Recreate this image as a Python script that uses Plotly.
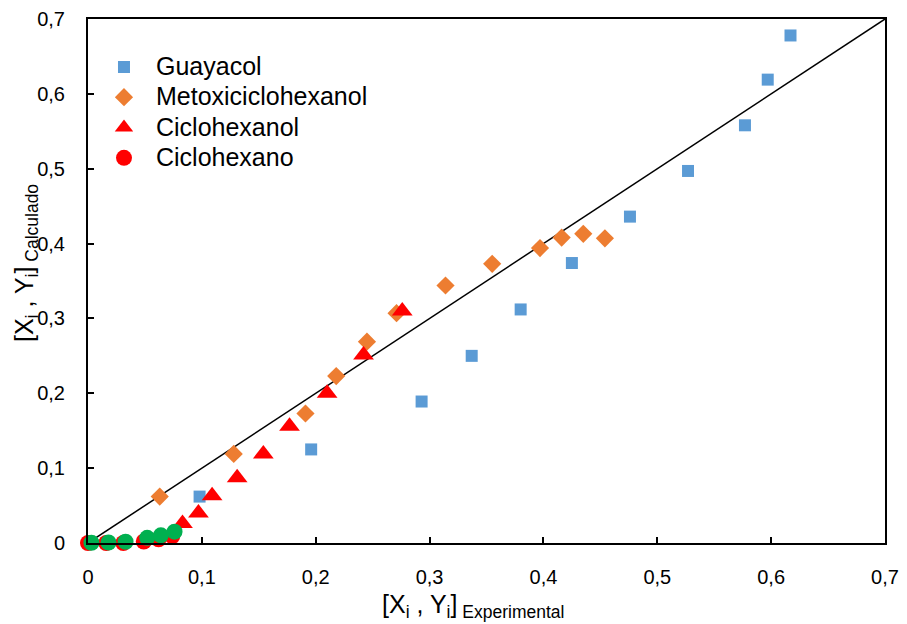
import plotly.graph_objects as go

# Composition data: experimental vs calculated
guayacol_x = [0.098, 0.196, 0.293, 0.337, 0.380, 0.425, 0.476, 0.527, 0.577, 0.597, 0.617]
guayacol_y = [0.062, 0.125, 0.189, 0.250, 0.312, 0.374, 0.436, 0.497, 0.558, 0.619, 0.678]

metoxi_x = [0.063, 0.128, 0.191, 0.218, 0.245, 0.271, 0.314, 0.355, 0.397, 0.416, 0.435, 0.454]
metoxi_y = [0.062, 0.119, 0.173, 0.223, 0.269, 0.307, 0.344, 0.373, 0.394, 0.408, 0.413, 0.407]

ciclohexanol_x = [0.083, 0.097, 0.109, 0.131, 0.154, 0.177, 0.210, 0.242, 0.276]
ciclohexanol_y = [0.026, 0.040, 0.063, 0.087, 0.119, 0.156, 0.200, 0.251, 0.310]

ciclohexano_x = [0.000, 0.016, 0.031, 0.049, 0.062, 0.074]
ciclohexano_y = [0.000, 0.000, 0.000, 0.002, 0.005, 0.009]

ciclohexano_calc_x = [0.003, 0.018, 0.033, 0.052, 0.064, 0.076]
ciclohexano_calc_y = [0.0003, 0.0007, 0.0017, 0.0069, 0.0103, 0.0151]

diag = [0.0, 0.7]
tick_vals = [0, 0.1, 0.2, 0.3, 0.4, 0.5, 0.6, 0.7]

FONT = "Liberation Sans, Arial, sans-serif"


def legend_label(txt):
    # larger glyphs inside a tighter legend row
    return f'<span style="font-size:25px">{txt}</span>'


fig = go.Figure()

# 1:1 reference line
fig.add_trace(go.Scatter(x=diag, y=diag, mode="lines",
                         line=dict(color="black", width=1.5),
                         showlegend=False, hoverinfo="skip"))

fig.add_trace(go.Scatter(x=guayacol_x, y=guayacol_y, mode="markers",
                         name=legend_label("Guayacol"),
                         marker=dict(symbol="square", size=12, color="#5B9BD5"),
                         cliponaxis=False))
fig.add_trace(go.Scatter(x=metoxi_x, y=metoxi_y, mode="markers",
                         name=legend_label("Metoxiciclohexanol"),
                         marker=dict(symbol="diamond", size=14, color="#ED7D31"),
                         cliponaxis=False))
fig.add_trace(go.Scatter(x=ciclohexanol_x, y=ciclohexanol_y, mode="markers",
                         name=legend_label("Ciclohexanol"),
                         marker=dict(symbol="triangle-up", size=18, color="#FF0000"),
                         cliponaxis=False))
fig.add_trace(go.Scatter(x=ciclohexano_x, y=ciclohexano_y, mode="markers",
                         name=legend_label("Ciclohexano"),
                         marker=dict(symbol="circle", size=16, color="#FF0000"),
                         cliponaxis=False))
fig.add_trace(go.Scatter(x=ciclohexano_calc_x, y=ciclohexano_calc_y, mode="markers",
                         name="Ciclohexano (2)", showlegend=False,
                         marker=dict(symbol="circle", size=16, color="#00B050"),
                         cliponaxis=False))

axis_common = dict(
    range=[0, 0.7], tickvals=tick_vals, showgrid=False, zeroline=False,
    showline=True, linecolor="black", linewidth=2, mirror=True,
    ticks="inside", ticklen=6, tickwidth=1.5, tickcolor="black",
    tickfont=dict(family=FONT, size=20, color="black"),
    automargin=False,
)

fig.update_layout(
    width=907, height=624,
    margin=dict(l=88, r=22, t=19, b=81),
    paper_bgcolor="white", plot_bgcolor="white",
    separators=", ",
    xaxis=dict(**axis_common, ticklabelstandoff=15),
    yaxis=dict(**axis_common, ticklabelstandoff=17),
    legend=dict(x=0.005, y=0.947, xanchor="left", yanchor="top",
                bgcolor="rgba(0,0,0,0)", itemwidth=54,
                font=dict(family=FONT, size=21, color="black"),
                tracegroupgap=0),
    font=dict(family=FONT, color="black"),
    annotations=[
        dict(text="[X<sub>i</sub> , Y<sub>i</sub>]<sub> Experimental</sub>",
             xref="paper", yref="paper", x=0.483, y=-0.121,
             xanchor="center", yanchor="middle", showarrow=False,
             font=dict(family=FONT, size=25, color="black")),
        dict(text="[X<sub>i</sub> , Y<sub>i</sub>]<sub> Calculado</sub>",
             xref="paper", yref="paper", x=-0.078, y=0.534,
             xanchor="center", yanchor="middle", showarrow=False, textangle=-90,
             font=dict(family=FONT, size=25, color="black")),
    ],
)

fig.write_html("out.html")
